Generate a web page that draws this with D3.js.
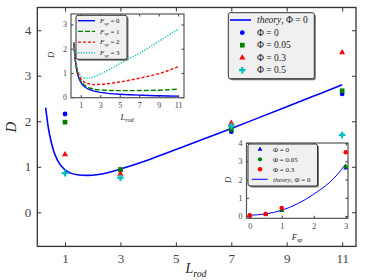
<!DOCTYPE html>
<html>
<head>
<meta charset="utf-8">
<script src="https://cdn.jsdelivr.net/npm/d3@7"></script>
<style>
  body { margin: 0; background: #fff; }
  svg { display: block; font-family: "Liberation Serif", "DejaVu Serif", serif; }
  .axis path { stroke: #333; }
  .axis line { stroke: #333; }
  .axis text { fill: #444; font-family: "Liberation Serif", serif; }
</style>
</head>
<body>
<svg width="374" height="280"></svg>
<script>
// main chart: theory curve and measured points
const theoryL = [0.3, 0.4, 0.5, 0.6, 0.7, 0.8, 1, 1.2, 1.5, 1.8, 2.2, 2.6, 3, 4, 5, 6, 7, 8, 9, 10, 11];
const theoryD = [2.3, 1.85, 1.55, 1.33, 1.18, 1.07, 0.93, 0.86, 0.82, 0.81, 0.83, 0.88, 0.95, 1.15, 1.38, 1.61, 1.84, 2.08, 2.32, 2.56, 2.8];
const Lrod = [1, 3, 7, 11];
const phi0 = [2.16, 0.92, 1.77, 2.6];
const phi005 = [1.98, 0.94, 1.82, 2.67];
const phi03 = [1.27, 0.84, 1.96, 3.51];
const phi05 = [0.86, 0.76, 1.9, 1.7];
const mainXTicks = [1, 3, 5, 7, 9, 11];
const mainYTicks = [0, 1, 2, 3, 4];

// inset 1: D vs L_rod for several F_sp
const insetL = [0.3, 0.4, 0.5, 0.6, 0.8, 1, 1.25, 1.5, 2, 2.5, 3, 4, 5, 6, 7, 8, 9, 10, 11];
const fsp0 = [2.25, 1.7, 1.35, 1.1, 0.8, 0.62, 0.48, 0.4, 0.3, 0.24, 0.2, 0.15, 0.12, 0.1, 0.085, 0.07, 0.06, 0.05, 0.045];
const fsp1 = [2.25, 1.72, 1.38, 1.14, 0.85, 0.68, 0.55, 0.47, 0.37, 0.32, 0.3, 0.28, 0.27, 0.27, 0.275, 0.28, 0.29, 0.31, 0.33];
const fsp2 = [2.25, 1.75, 1.42, 1.2, 0.93, 0.77, 0.66, 0.6, 0.54, 0.52, 0.53, 0.57, 0.63, 0.7, 0.78, 0.87, 0.97, 1.1, 1.26];
const fsp3 = [2.25, 1.8, 1.5, 1.28, 1.02, 0.88, 0.81, 0.78, 0.8, 0.87, 0.96, 1.16, 1.38, 1.6, 1.8, 2.05, 2.3, 2.55, 2.8];
const inset1XTicks = [1, 3, 5, 7, 9, 11];
const inset1YTicks = [0, 1, 2, 3];

// inset 2: D vs F_sp
const Fsp = [0, 0.5, 1, 3];
const fPhi0 = [0.02, 0.1, 0.3, 2.62];
const fPhi005 = [0.03, 0.11, 0.33, 2.7];
const fPhi03 = [0.04, 0.12, 0.45, 3.5];
const theoryF = [0, 0.25, 0.5, 0.75, 1, 1.25, 1.5, 1.75, 2, 2.25, 2.5, 2.75, 3];
const theoryFD = [0.05, 0.07, 0.12, 0.2, 0.32, 0.48, 0.68, 0.92, 1.2, 1.5, 1.85, 2.3, 2.85];
const inset2XTicks = [0, 1, 2, 3];
const inset2YTicks = [0, 1, 2, 3, 4];

const BLUE = "#0000ff", GREEN = "#008000", RED = "#ff0000", CYAN = "#00bfbf";

const svg = d3.select("svg");
const fmt = d3.format("d");

function panel(box, xdom, ydom, xt, yt, fs, pad) {
  const x = d3.scaleLinear().domain(xdom).range([box.l, box.r]);
  const y = d3.scaleLinear().domain(ydom).range([box.b, box.t]);
  const g = svg.append("g");
  g.append("rect").attr("x", box.l).attr("y", box.t)
    .attr("width", box.r - box.l).attr("height", box.b - box.t)
    .attr("fill", "#fff").attr("stroke", "none");
  const tk = box.tick;
  g.append("g").attr("class", "axis").attr("transform", `translate(0,${box.b})`)
    .call(d3.axisBottom(x).tickValues(xt).tickFormat(fmt).tickSize(-tk).tickPadding(pad.x).tickSizeOuter(0))
    .selectAll("text").style("font-size", fs + "px");
  g.append("g").attr("class", "axis").attr("transform", `translate(${box.l},0)`)
    .call(d3.axisLeft(y).tickValues(yt).tickFormat(fmt).tickSize(-tk).tickPadding(pad.y).tickSizeOuter(0))
    .selectAll("text").style("font-size", fs + "px");
  g.append("g").attr("class", "axis").attr("transform", `translate(0,${box.t})`)
    .call(d3.axisTop(x).tickValues(xt).tickSize(-tk).tickFormat("").tickSizeOuter(0));
  g.append("g").attr("class", "axis").attr("transform", `translate(${box.r},0)`)
    .call(d3.axisRight(y).tickValues(yt).tickSize(-tk).tickFormat("").tickSizeOuter(0));
  g.selectAll(".axis .domain").remove();
  g.append("rect").attr("x", box.l).attr("y", box.t)
    .attr("width", box.r - box.l).attr("height", box.b - box.t)
    .attr("fill", "none").attr("stroke", box.frame).attr("stroke-width", box.fw);
  return { x, y, g };
}

function sub(sel, main, s, rest, size) {
  const t = sel.append("text").style("font-size", size + "px").attr("fill", "#222");
  t.append("tspan").attr("font-style", "italic").text(main);
  t.append("tspan").attr("font-style", "italic").attr("dy", size * 0.25)
    .style("font-size", (size * 0.7) + "px").text(s);
  if (rest) t.append("tspan").attr("dy", -size * 0.25).text(rest);
  return t;
}

function shape(type, size) {
  return d3.symbol().type(type).size(size)();
}

function legendBox(x0, y0, w, h) {
  svg.append("rect").attr("x", x0 + 1.5).attr("y", y0 + 1.5).attr("width", w).attr("height", h)
    .attr("rx", 2).attr("fill", "#777");
  svg.append("rect").attr("x", x0).attr("y", y0).attr("width", w).attr("height", h)
    .attr("rx", 2).attr("fill", "#f0f0f0").attr("stroke", "#333").attr("stroke-width", 1);
}

// ---- main plot ----
const m = panel({ l: 37.3, r: 356, t: 7.5, b: 246.4, tick: 4, frame: "#333", fw: 1.3 },
  [0, 11.5], [-0.75, 4.5], mainXTicks, mainYTicks, 13, { x: 7, y: 6 });

const lineMain = d3.line().x((d) => m.x(d[0])).y((d) => m.y(d[1])).curve(d3.curveMonotoneX);
m.g.append("path").datum(theoryL.map((l, i) => [l, theoryD[i]]))
  .attr("d", lineMain).attr("fill", "none").attr("stroke", BLUE).attr("stroke-width", 1.6);

const mainSeries = [
  { vals: phi0, color: BLUE, type: d3.symbolCircle, size: 18, label: "0" },
  { vals: phi005, color: GREEN, type: d3.symbolSquare, size: 22, label: "0.05" },
  { vals: phi03, color: RED, type: d3.symbolTriangle, size: 16, label: "0.3" },
  { vals: phi05, color: CYAN, type: d3.symbolCross, size: 24, label: "0.5" },
];
mainSeries.forEach((s) => {
  m.g.selectAll(null).data(Lrod.map((l, i) => [l, s.vals[i]])).enter().append("path")
    .attr("d", shape(s.type, s.size))
    .attr("transform", (d) => `translate(${m.x(d[0])},${m.y(d[1])})`)
    .attr("fill", s.color);
});

sub(svg, "L", "rod", null, 14).attr("x", 196).attr("y", 273).attr("text-anchor", "middle");
svg.append("text").attr("transform", "translate(16,127) rotate(-90)")
  .attr("text-anchor", "middle").attr("font-style", "italic").style("font-size", "15px")
  .attr("fill", "#222").text("D");

// main legend
legendBox(228.3, 12.7, 86, 66);
svg.append("line").attr("x1", 230).attr("x2", 251).attr("y1", 20).attr("y2", 20)
  .attr("stroke", BLUE).attr("stroke-width", 1.6);
const lt = svg.append("text").attr("x", 257).attr("y", 23).style("font-size", "9.5px").attr("fill", "#222");
lt.append("tspan").attr("font-style", "italic").text("theory");
lt.append("tspan").text(", Φ = 0");
mainSeries.forEach((s, i) => {
  const yy = 32.7 + i * 12.5;
  svg.append("path").attr("d", shape(s.type, s.size))
    .attr("transform", `translate(242.3,${yy})`).attr("fill", s.color);
  svg.append("text").attr("x", 257).attr("y", yy + 3.2).style("font-size", "9.5px")
    .attr("fill", "#222").text("Φ = " + s.label);
});

// ---- inset 1 ----
const a = panel({ l: 71, r: 184, t: 14, b: 97.7, tick: 2.5, frame: "#555", fw: 1.2 },
  [0, 11.6], [-0.02, 3.43], inset1XTicks, inset1YTicks, 8, { x: 5, y: 4 });
const insetSeries = [
  { vals: fsp0, color: BLUE, dash: null, label: "0" },
  { vals: fsp1, color: GREEN, dash: "5,2", label: "1" },
  { vals: fsp2, color: RED, dash: "3,2", label: "2" },
  { vals: fsp3, color: CYAN, dash: "1.2,1.5", label: "3" },
];
const lineA = d3.line().x((d) => a.x(d[0])).y((d) => a.y(d[1])).curve(d3.curveMonotoneX);
insetSeries.forEach((s) => {
  a.g.append("path").datum(insetL.map((l, i) => [l, s.vals[i]]))
    .attr("d", lineA).attr("fill", "none").attr("stroke", s.color).attr("stroke-width", 1.4)
    .attr("stroke-dasharray", s.dash);
});
sub(svg, "L", "rod", null, 8.5).attr("x", 127).attr("y", 120).attr("text-anchor", "middle");
svg.append("text").attr("transform", "translate(54,55) rotate(-90)")
  .attr("text-anchor", "middle").attr("font-style", "italic").style("font-size", "8.5px")
  .attr("fill", "#222").text("D");
legendBox(76, 15.3, 51, 44);
insetSeries.forEach((s, i) => {
  const yy = 20.7 + i * 10.7;
  svg.append("line").attr("x1", 78).attr("x2", 95).attr("y1", yy).attr("y2", yy)
    .attr("stroke", s.color).attr("stroke-width", 1.4).attr("stroke-dasharray", s.dash);
  sub(svg, "F", "sp", " = " + s.label, 7).attr("x", 100).attr("y", yy + 2.3);
});

// ---- inset 2 ----
const b = panel({ l: 246.5, r: 348, t: 143, b: 218.3, tick: 2.5, frame: "#555", fw: 1.2 },
  [-0.1, 3.07], [-0.12, 4.0], inset2XTicks, inset2YTicks, 8, { x: 5, y: 4 });
const lineB = d3.line().x((d) => b.x(d[0])).y((d) => b.y(d[1])).curve(d3.curveMonotoneX);
b.g.append("path").datum(theoryF.map((f, i) => [f, theoryFD[i]]))
  .attr("d", lineB).attr("fill", "none").attr("stroke", BLUE).attr("stroke-width", 1);
const fSeries = [
  { vals: fPhi0, color: BLUE, type: d3.symbolTriangle, size: 10, label: "0" },
  { vals: fPhi005, color: GREEN, type: d3.symbolCircle, size: 14, label: "0.05" },
  { vals: fPhi03, color: RED, type: d3.symbolCircle, size: 16, label: "0.3" },
];
fSeries.forEach((s) => {
  b.g.selectAll(null).data(Fsp.map((f, i) => [f, s.vals[i]])).enter().append("path")
    .attr("d", shape(s.type, s.size))
    .attr("transform", (d) => `translate(${b.x(d[0])},${b.y(d[1])})`)
    .attr("fill", s.color);
});
sub(svg, "F", "sp", null, 8.5).attr("x", 297).attr("y", 240).attr("text-anchor", "middle");
svg.append("text").attr("transform", "translate(231,180) rotate(-90)")
  .attr("text-anchor", "middle").attr("font-style", "italic").style("font-size", "8.5px")
  .attr("fill", "#222").text("D");
legendBox(248, 144, 69.5, 42);
fSeries.forEach((s, i) => {
  const yy = 149.3 + i * 10;
  svg.append("path").attr("d", shape(s.type, s.size))
    .attr("transform", `translate(260,${yy})`).attr("fill", s.color);
  svg.append("text").attr("x", 273).attr("y", yy + 2.4).style("font-size", "7px")
    .attr("fill", "#222").text("Φ = " + s.label);
});
svg.append("line").attr("x1", 251.7).attr("x2", 267.7).attr("y1", 179.3).attr("y2", 179.3)
  .attr("stroke", BLUE).attr("stroke-width", 1);
const lt2 = svg.append("text").attr("x", 273).attr("y", 181.7).style("font-size", "7px").attr("fill", "#222");
lt2.append("tspan").attr("font-style", "italic").text("theory");
lt2.append("tspan").text(", Φ = 0");
</script>
</body>
</html>
